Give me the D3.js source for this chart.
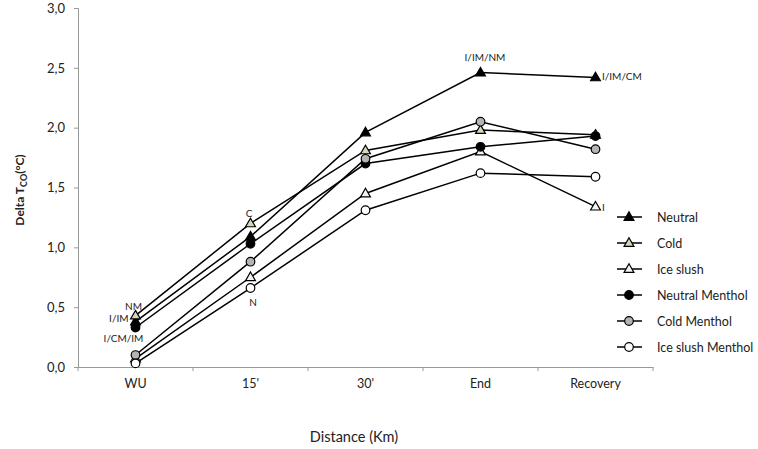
<!DOCTYPE html>
<html><head><meta charset="utf-8">
<script src="https://cdn.jsdelivr.net/npm/d3@7"></script>
<style>body{margin:0;background:#fff}svg{display:block}text{font-family:Lato,"Open Sans",sans-serif}</style>
</head><body>
<svg id="c" width="758" height="449"></svg>
<script>
const categories = ["WU","15'","30'","End","Recovery"];
const seriesNames = ["Neutral","Cold","Ice slush","Neutral Menthol","Cold Menthol","Ice slush Menthol"];
const neutral        = [0.38, 1.09, 1.96, 2.46, 2.42];
const cold           = [0.43, 1.20, 1.81, 1.98, 1.94];
const iceSlush       = [0.07, 0.75, 1.45, 1.80, 1.34];
const neutralMenthol = [0.33, 1.03, 1.70, 1.84, 1.93];
const coldMenthol    = [0.10, 0.88, 1.74, 2.05, 1.82];
const iceSlushMenthol= [0.03, 0.66, 1.31, 1.62, 1.59];
const yTicks = [0,0.5,1,1.5,2,2.5,3];
const annotations = [
  {cat:"WU", text:"NM", dx:-2, dy:-57},
  {cat:"WU", text:"I/IM", dx:-7, dy:-45, anchor:"end"},
  {cat:"WU", text:"I/CM/IM", dx:-12, dy:-25},
  {cat:"15'", text:"C", dx:-1.5, dy:-150},
  {cat:"15'", text:"N", dx:2.5, dy:-61},
  {cat:"End", text:"I/IM/NM", dx:4.5, dy:-306},
  {cat:"Recovery", text:"I/IM/CM", dx:6.5, dy:-287, anchor:"start"},
  {cat:"Recovery", text:"I", dx:6.5, dy:-156, anchor:"start"}
];

const series = [
  {name:seriesNames[0], values:neutral, shape:"tri", fill:"#000"},
  {name:seriesNames[1], values:cold, shape:"tri", fill:"#d6d6b8"},
  {name:seriesNames[2], values:iceSlush, shape:"tri", fill:"#eef4f8"},
  {name:seriesNames[3], values:neutralMenthol, shape:"circ", fill:"#000"},
  {name:seriesNames[4], values:coldMenthol, shape:"circ", fill:"#b4b4b4"},
  {name:seriesNames[5], values:iceSlushMenthol, shape:"circ", fill:"#fff"}
];

const svg = d3.select("#c");
const x0 = 78, x1 = 653, yTop = 8, yBot = 367;
const x = d3.scaleBand().domain(categories).range([x0,x1]);
const y = d3.scaleLinear().domain([0,3]).range([yBot,yTop]);
const cx = c => x(c) + x.bandwidth()/2;

// axes
const yAxis = d3.axisLeft(y).tickValues(yTicks).tickSize(4).tickFormat(d=>d3.format(".1f")(d).replace(".",","));
const gy = svg.append("g").attr("transform",`translate(${x0},0)`).call(yAxis);
gy.select(".domain").attr("stroke","#999");
gy.selectAll(".tick line").attr("stroke","#999");
gy.selectAll(".tick text").attr("font-size",13).attr("fill","#222").attr("x",-13);

const xAxis = d3.axisBottom(x).tickSize(0).tickSizeOuter(0);
const gx = svg.append("g").attr("transform",`translate(0,${yBot})`).call(xAxis);
gx.select(".domain").attr("stroke","#999");
gx.selectAll(".tick text").attr("font-size",12.5).attr("fill","#222").attr("dy","1.45em");
// boundary ticks
const bounds = categories.map(c=>x(c)).concat([x1]);
svg.append("g").selectAll("line").data(bounds).join("line")
  .attr("x1",d=>d).attr("x2",d=>d).attr("y1",yBot).attr("y2",yBot+4).attr("stroke","#999");

svg.append("text").attr("x",354).attr("y",442).attr("text-anchor","middle").attr("font-size",14.5).attr("fill","#222").text("Distance (Km)");
const yt = svg.append("text").attr("transform","translate(24,190) rotate(-90)").attr("text-anchor","middle").attr("font-size",12).attr("font-weight","bold").attr("fill","#222");
yt.append("tspan").text("Delta T");
yt.append("tspan").attr("font-size",9).attr("dy",3).text("CO");
yt.append("tspan").attr("dy",-3).text("(°C)");

// lines
const line = d3.line().x((d,i)=>cx(categories[i])).y(d=>y(d));
svg.append("g").selectAll("path").data(series).join("path")
  .attr("d",s=>line(s.values)).attr("fill","none").attr("stroke","#000").attr("stroke-width",1.5);

const triSym = d3.symbol().type(d3.symbolTriangle).size(42);
function drawMarker(g, s, px, py){
  if(s.shape==="tri"){
    g.append("path").attr("d",triSym()).attr("transform",`translate(${px},${py+0.5})`)
      .attr("fill",s.fill).attr("stroke","#000").attr("stroke-width",1.2);
  } else {
    g.append("circle").attr("cx",px).attr("cy",py).attr("r",4.3)
      .attr("fill",s.fill).attr("stroke","#000").attr("stroke-width",1.2);
  }
}
const mg = svg.append("g");
series.forEach(s=>s.values.forEach((v,i)=>drawMarker(mg,s,cx(categories[i]),y(v))));

// annotations
svg.append("g").selectAll("text").data(annotations).join("text")
  .attr("x",d=>cx(d.cat)+d.dx).attr("y",d=>yBot+d.dy).attr("text-anchor",d=>d.anchor||"middle")
  .attr("font-size",10).attr("fill","#222").text(d=>d.text);

// legend
const lg = svg.append("g");
series.forEach((s,i)=>{
  const ly = 217 + i*26;
  lg.append("line").attr("x1",617).attr("x2",642).attr("y1",ly).attr("y2",ly).attr("stroke","#000").attr("stroke-width",1.5);
  drawMarker(lg,s,629,ly);
  lg.append("text").attr("x",657).attr("y",ly+4.5).attr("font-size",12.5).attr("fill","#222").text(s.name);
});
</script>
</body></html>
